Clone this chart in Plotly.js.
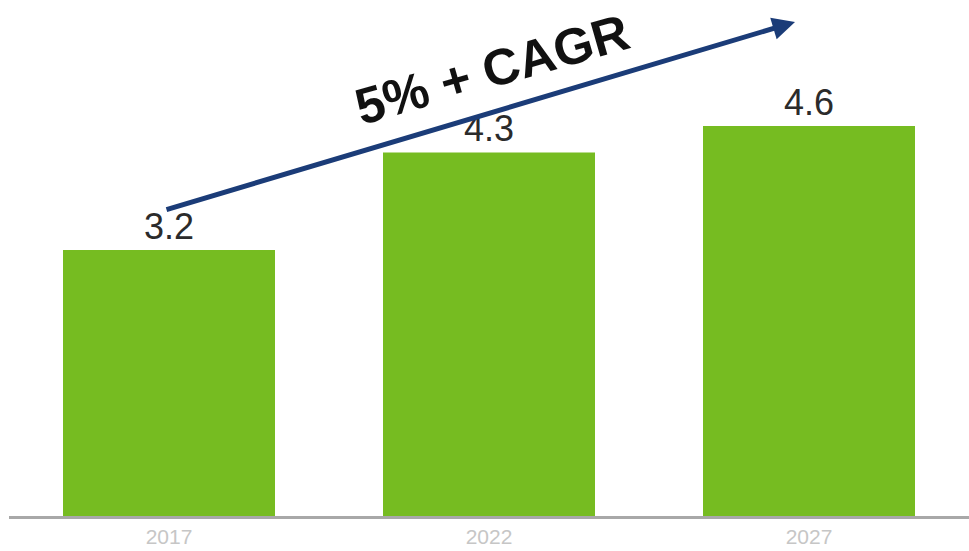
<!DOCTYPE html>
<html>
<head>
<meta charset="utf-8">
<script src="https://cdn.plot.ly/plotly-3.0.1.min.js"></script>
<style>html,body{margin:0;padding:0;background:#fff;}#chart{width:969px;height:551px;}</style>
</head>
<body>
<div id="chart"></div>
<script>
const years = ['2017', '2022', '2027'];
const values = [3.2, 4.3, 4.6];
const valueLabels = ['3.2', '4.3', '4.6'];
const arrowText = '5% + CAGR';

const trace = {
  type: 'bar',
  x: years,
  y: values,
  text: valueLabels,
  textposition: 'outside',
  cliponaxis: true,
  outsidetextfont: {family: 'Liberation Sans, Arial, sans-serif', size: 36, color: '#2b2b2b'},
  marker: {color: '#76bc21'},
  hoverinfo: 'none'
};

const annotations = [];
// trend arrow
annotations.push({
  xref: 'paper', yref: 'paper', axref: 'paper', ayref: 'paper',
  x: (795 - 9) / 960, y: (516 - 22) / 516,
  ax: (165 - 9) / 960, ay: (516 - 210) / 516,
  text: '', showarrow: true,
  arrowhead: 2, arrowsize: 0.9, arrowwidth: 5, arrowcolor: '#1b3c78'
});
annotations.push({
  xref: 'paper', yref: 'paper',
  x: (492 - 9) / 960, y: (516 - 69) / 516,
  xanchor: 'center', yanchor: 'middle',
  text: '<b>' + arrowText + '</b>', showarrow: false,
  textangle: -16,
  font: {family: 'Liberation Sans, Arial, sans-serif', size: 51, color: '#111111'}
});

const layout = {
  width: 969, height: 551,
  margin: {l: 9, r: 0, t: 0, b: 35},
  paper_bgcolor: '#ffffff', plot_bgcolor: '#ffffff',
  showlegend: false,
  bargap: 0.3375,
  xaxis: {
    type: 'category', range: [-0.5, 2.5],
    showline: true, linecolor: '#a8a8a8', linewidth: 3,
    ticks: '', showgrid: false, zeroline: false,
    tickfont: {family: 'Liberation Sans, Arial, sans-serif', size: 21, color: '#c6c6c6'}
  },
  yaxis: {
    range: [0.2, 6.02], visible: false, showgrid: false, zeroline: false
  },
  annotations: annotations
};

Plotly.newPlot('chart', [trace], layout, {displayModeBar: false, staticPlot: true});
</script>
</body>
</html>
